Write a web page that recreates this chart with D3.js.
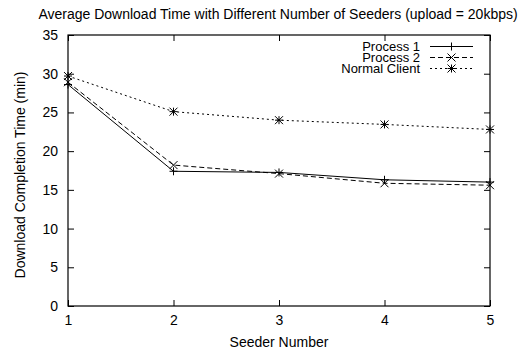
<!DOCTYPE html>
<html>
<head>
<meta charset="utf-8">
<script src="https://cdn.jsdelivr.net/npm/d3@7"></script>
<style>
body { margin: 0; background: #fff; }
text { font-family: "Liberation Sans", Arial, sans-serif; fill: #000; }
</style>
</head>
<body>
<svg id="chart" width="522" height="354"></svg>
<script>
// chart data
var seeders = [1, 2, 3, 4, 5];
var process1 = [28.6, 17.4, 17.25, 16.3, 16.0];
var process2 = [28.9, 18.2, 17.1, 15.85, 15.6];
var normalClient = [29.7, 25.1, 24.0, 23.45, 22.8];
var yTicks = [0, 5, 10, 15, 20, 25, 30, 35];
var seriesNames = ["Process 1", "Process 2", "Normal Client"];

var svg = d3.select("#chart");
var plotLeft = 68, plotRight = 490, plotTop = 35, plotBottom = 306;
var fontSize = "14px";

var x = d3.scaleLinear().domain([1, 5]).range([plotLeft, plotRight]);
var y = d3.scaleLinear().domain([0, 35]).range([plotBottom, plotTop]);

var series = [
    { name: seriesNames[0], values: process1, dash: null, mark: "plus" },
    { name: seriesNames[1], values: process2, dash: "5,3", mark: "cross" },
    { name: seriesNames[2], values: normalClient, dash: "2,3", mark: "star" }
];

// axes, gnuplot style: ticks inside, mirrored on top and right
var tick = 6;
svg.append("g")
    .attr("transform", "translate(0," + plotBottom + ")")
    .call(d3.axisBottom(x).tickValues(seeders).tickFormat(d3.format("d")).tickSizeInner(-tick).tickSizeOuter(0).tickPadding(9))
    .call(function (g) { g.select(".domain").remove(); });
svg.append("g")
    .attr("transform", "translate(0," + plotTop + ")")
    .call(d3.axisTop(x).tickValues(seeders).tickFormat("").tickSizeInner(-tick).tickSizeOuter(0))
    .call(function (g) { g.select(".domain").remove(); });
svg.append("g")
    .attr("transform", "translate(" + plotLeft + ",0)")
    .call(d3.axisLeft(y).tickValues(yTicks).tickSizeInner(-tick).tickSizeOuter(0).tickPadding(10))
    .call(function (g) { g.select(".domain").remove(); });
svg.append("g")
    .attr("transform", "translate(" + plotRight + ",0)")
    .call(d3.axisRight(y).tickValues(yTicks).tickFormat("").tickSizeInner(-tick).tickSizeOuter(0))
    .call(function (g) { g.select(".domain").remove(); });

svg.selectAll(".tick text").style("font-size", fontSize).style("font-family", "Liberation Sans, Arial, sans-serif");
svg.selectAll(".tick line").attr("stroke", "#000");

svg.append("rect")
    .attr("x", plotLeft).attr("y", plotTop)
    .attr("width", plotRight - plotLeft).attr("height", plotBottom - plotTop)
    .attr("fill", "none").attr("stroke", "#000").attr("stroke-width", 1.2);

// markers
function drawMark(g, type, cx, cy) {
    var s = 4;
    var p = d3.path();
    if (type === "plus" || type === "star") {
        p.moveTo(cx - s, cy); p.lineTo(cx + s, cy);
        p.moveTo(cx, cy - s); p.lineTo(cx, cy + s);
    }
    if (type === "cross" || type === "star") {
        p.moveTo(cx - s, cy - s); p.lineTo(cx + s, cy + s);
        p.moveTo(cx - s, cy + s); p.lineTo(cx + s, cy - s);
    }
    g.append("path").attr("d", p.toString()).attr("stroke", "#000").attr("stroke-width", 1).attr("fill", "none");
}

var line = d3.line()
    .x(function (d, i) { return x(seeders[i]); })
    .y(function (d) { return y(d); });

series.forEach(function (s) {
    var g = svg.append("g");
    g.append("path")
        .attr("d", line(s.values))
        .attr("fill", "none")
        .attr("stroke", "#000")
        .attr("stroke-width", 1)
        .attr("stroke-dasharray", s.dash);
    s.values.forEach(function (v, i) {
        drawMark(g, s.mark, x(seeders[i]), y(v));
    });
});

// legend
var legY = [46.5, 57.5, 68.5];
series.forEach(function (s, i) {
    svg.append("text")
        .attr("x", 420).attr("y", legY[i])
        .attr("dy", "0.35em")
        .attr("text-anchor", "end")
        .style("font-size", "13px")
        .text(s.name);
    var g = svg.append("g");
    g.append("path")
        .attr("d", "M430," + legY[i] + "H473")
        .attr("stroke", "#000").attr("stroke-width", 1)
        .attr("stroke-dasharray", s.dash);
    drawMark(g, s.mark, 451.5, legY[i]);
});

// titles
svg.append("text")
    .attr("x", 278).attr("y", 14).attr("dy", "0.35em")
    .attr("text-anchor", "middle")
    .style("font-size", fontSize)
    .text("Average Download Time with Different Number of Seeders (upload = 20kbps)");
svg.append("text")
    .attr("x", 279).attr("y", 342).attr("dy", "0.35em")
    .attr("text-anchor", "middle")
    .style("font-size", fontSize)
    .text("Seeder Number");
svg.append("text")
    .attr("transform", "translate(20,175) rotate(-90)")
    .attr("dy", "0.35em")
    .attr("text-anchor", "middle")
    .style("font-size", fontSize)
    .text("Download Completion Time (min)");
</script>
</body>
</html>
